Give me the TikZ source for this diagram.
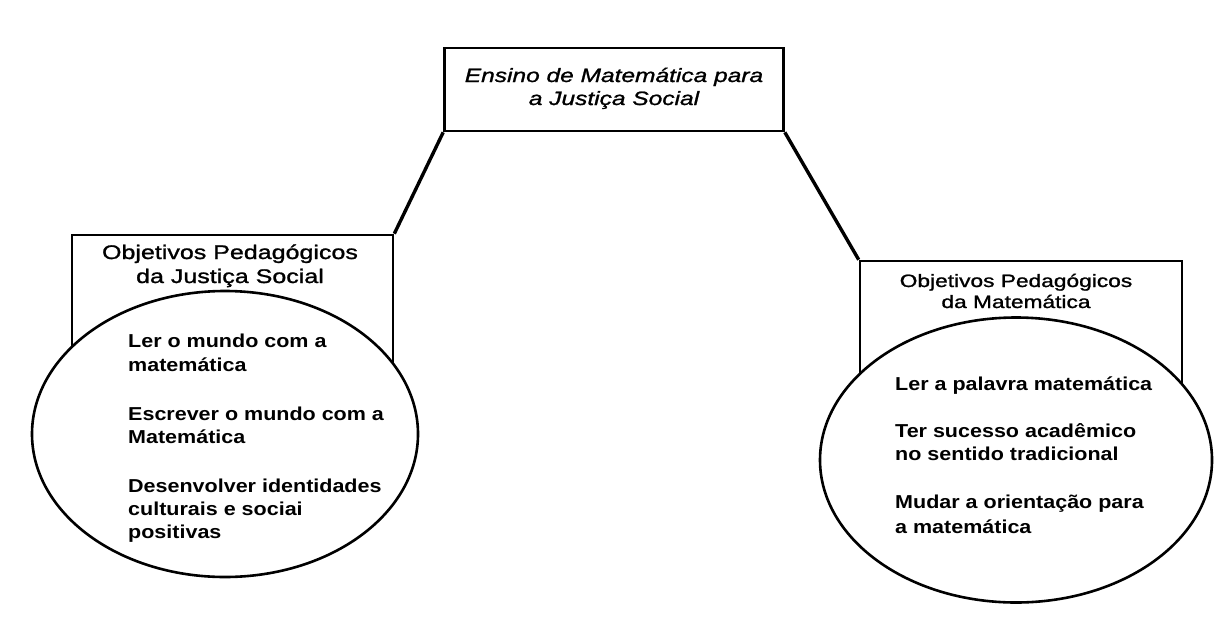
\documentclass[tikz,border=0pt]{standalone}
\usepackage{fontspec}
\setmainfont{Liberation Sans}
\newfontfamily\hdrfont[FakeStretch=1.27, FakeBold=1.2]{Liberation Sans}
\newfontfamily\itemfont[FakeStretch=1.15]{Liberation Sans}
\usetikzlibrary{shapes.geometric}
\begin{document}
\begin{tikzpicture}[x=1pt,y=-1pt,
  boxst/.style={draw, line width=2.6pt, inner sep=0pt},
  ellst/.style={ellipse, draw, line width=2.6pt, fill=white, inner sep=0pt},
  link/.style={line width=3.4pt},
  toptxt/.style={font=\hdrfont\itshape\fontsize{19.3}{23}\selectfont, anchor=base, inner sep=0pt},
  lhdr/.style={font=\hdrfont\fontsize{19.7}{23}\selectfont, anchor=base, inner sep=0pt},
  rhdr/.style={font=\hdrfont\fontsize{17.9}{22}\selectfont, anchor=base, inner sep=0pt},
  itemtxt/.style={font=\itemfont\bfseries\fontsize{18.7}{23}\selectfont, anchor=base west, inner sep=0pt}]
\useasboundingbox (0,0) rectangle (1214,640);
\fill[white] (0,0) rectangle (1214,640);
% boxes
\node[boxst, minimum width=339pt, minimum height=83pt] (top) at (614,89.5) {};
\node[boxst, minimum width=321pt, minimum height=165pt] (lbox) at (232.5,317.5) {};
\node[boxst, minimum width=322pt, minimum height=159pt] (rbox) at (1021,340.5) {};
% ellipses
\node[ellst, minimum width=386pt, minimum height=286pt] (lell) at (225,434) {};
\node[ellst, minimum width=392pt, minimum height=285pt] (rell) at (1016,460) {};
% connectors
\draw[link] (top.south west) -- (lbox.north east);
\draw[link] (top.south east) -- (rbox.north west);
% top text
\node[toptxt] (t1) at (614,82) {Ensino de Matemática para};
\node[toptxt] (t2) at (614,105) {a Justiça Social};
% left header
\node[lhdr] (lh1) at (230,259) {Objetivos Pedagógicos};
\node[lhdr] (lh2) at (230,283) {da Justiça Social};
% right header
\node[rhdr] (rh1) at (1016,287) {Objetivos Pedagógicos};
\node[rhdr] (rh2) at (1016,308) {da Matemática};
% left ellipse text
\node[itemtxt] (la1) at (128,347) {Ler o mundo com a};
\node[itemtxt] (la2) at (128,371) {matemática};
\node[itemtxt] (lb1) at (128,420) {Escrever o mundo com a};
\node[itemtxt] (lb2) at (128,443) {Matemática};
\node[itemtxt] (lc1) at (128,492) {Desenvolver identidades};
\node[itemtxt] (lc2) at (128,515) {culturais e sociai};
\node[itemtxt] (lc3) at (128,538) {positivas};
% right ellipse text
\node[itemtxt] (ra1) at (895,390) {Ler a palavra matemática};
\node[itemtxt] (rb1) at (895,437) {Ter sucesso acadêmico};
\node[itemtxt] (rb2) at (895,460) {no sentido tradicional};
\node[itemtxt] (rc1) at (895,508) {Mudar a orientação para};
\node[itemtxt] (rc2) at (895,533) {a matemática};
\end{tikzpicture}
\end{document}
